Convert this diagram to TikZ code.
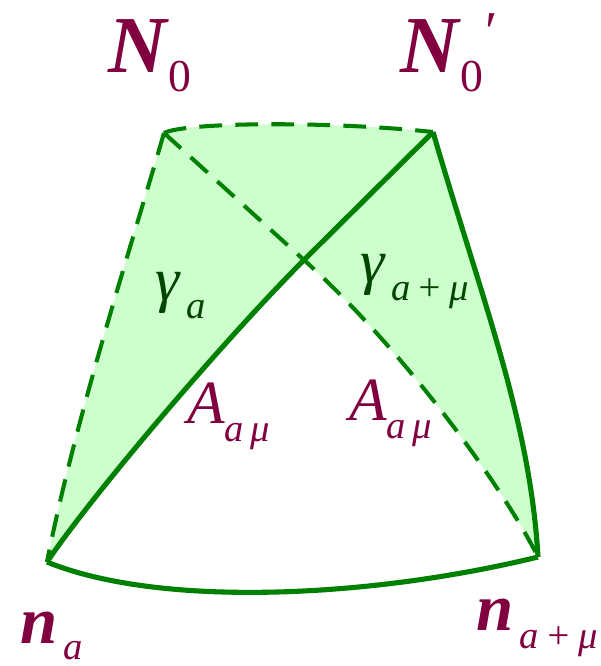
\documentclass[tikz,border=0pt]{standalone}
\usepackage{fontspec}
\setmainfont{Liberation Serif}
\usepackage{xcolor}
\usepackage{tikz}
\definecolor{labelred}{RGB}{128,0,64}
\definecolor{arcgreen}{RGB}{0,128,0}
\definecolor{patchfill}{RGB}{204,255,204}
\definecolor{gammagreen}{RGB}{0,70,0}
% font sizes for the labels
\newcommand{\vecfont}{\fontsize{46}{46}\selectfont\bfseries\itshape}
\newcommand{\nfont}{\fontsize{38}{38}\selectfont\bfseries\itshape}
\newcommand{\symfont}{\fontsize{35}{35}\selectfont\itshape}
\newcommand{\idxfont}{\fontsize{22}{22}\selectfont\itshape}
\newcommand{\lowidx}[1]{\raisebox{-10.5pt}{\idxfont #1}}
\newcommand{\lowzero}{\raisebox{-11pt}{\fontsize{26}{26}\selectfont 0}}

\begin{document}
\begin{tikzpicture}[
    x=0.02cm, y=-0.02cm,
    arc/.style={draw=arcgreen, line width=2.9pt, line join=round},
    dasharc/.style={draw=arcgreen, line width=2.3pt, dash pattern=on 13pt off 7.5pt},
    lbl/.style={text=labelred, inner sep=0pt, anchor=base west},
    glbl/.style={text=gammagreen, inner sep=0pt, anchor=base west}
  ]
  \useasboundingbox (0,0) rectangle (601,666);

  % corners of the patch
  \coordinate (N0) at (164,133);
  \coordinate (N0p) at (433,132);
  \coordinate (X) at (304,260);
  \coordinate (na) at (47,562);
  \coordinate (nam) at (538,557);

  % shaded part
  \fill[patchfill] (N0) .. controls (185,122) and (330,121) .. (N0p)
    .. controls (482,300) and (530,420) .. (nam)
    .. controls (503,487) and (404,350) .. (X)
    .. controls (224,340) and (92,495) .. (na)
    .. controls (75,420) and (130,250) .. (N0) -- cycle;

  % dashed arcs
  \draw[dasharc] (N0) .. controls (185,122) and (330,121) .. (N0p);
  \draw[dasharc] (N0) .. controls (130,250) and (75,420) .. (na);
  \draw[dasharc] (N0) -- (X) .. controls (404,350) and (503,487) .. (nam);

  % solid arcs
  \draw[arc] (N0p) -- (X) .. controls (224,340) and (92,495) .. (na);
  \draw[arc] (N0p) .. controls (482,300) and (530,420) .. (nam);
  \draw[arc] (na) .. controls (160,608) and (370,598) .. (nam);

  % labels
  \node[lbl] (N0lbl) at (108,72) {{\vecfont N}\kern1pt\lowzero};
  \node[lbl] (N0plbl) at (400,72) {{\vecfont N}\kern1pt\lowzero\kern1pt\raisebox{12pt}{\fontsize{32}{32}\selectfont ′}};
  \node[glbl] (gal) at (155,300) {{\symfont γ}\lowidx{\,a}};
  \node[glbl] (gaml) at (360,282) {{\symfont γ}\lowidx{\,a\,+\,μ}};
  \node[lbl] (Al) at (187,423) {{\symfont A}\lowidx{a\,μ}};
  \node[lbl] (Ar) at (349,420) {{\symfont A}\lowidx{a\,μ}};
  \node[lbl] (nal) at (20,643) {{\nfont n}\raisebox{-9.5pt}{\idxfont \,a}};
  \node[lbl] (naml) at (476,630) {{\nfont n}\lowidx{\,a\,+\,μ}};
\end{tikzpicture}
\end{document}
